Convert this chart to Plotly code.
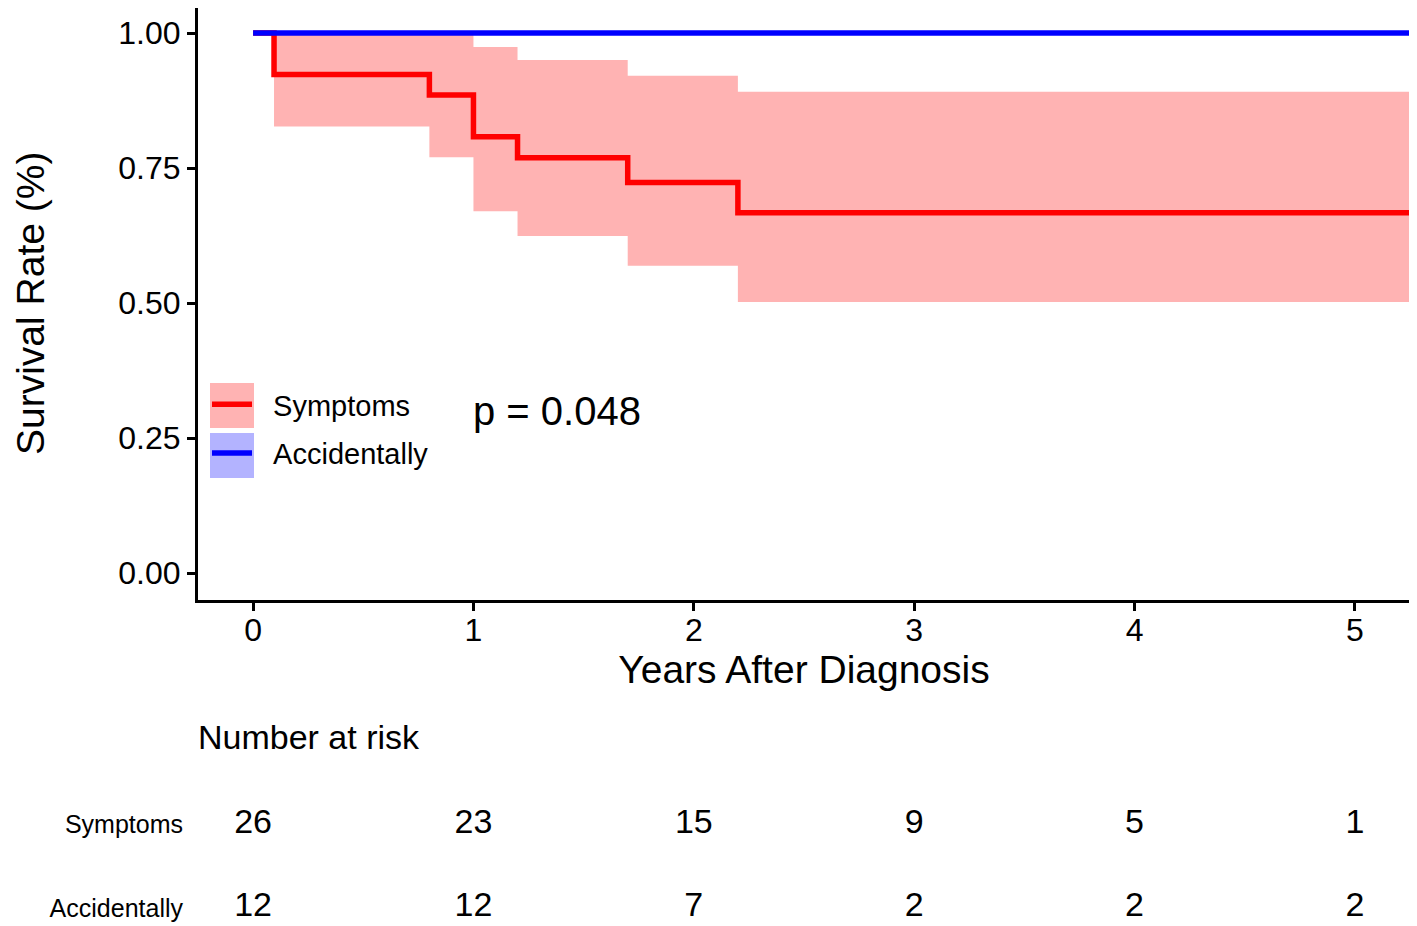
import plotly.graph_objects as go

# ---- data ----
groups = ["Symptoms", "Accidentally"]

sym_time = [0, 0.095, 0.8, 1.0, 1.2, 1.7, 2.2, 5.25]
sym_surv = [1.0, 0.923, 0.885, 0.808, 0.769, 0.723, 0.667, 0.667]
sym_upper = [1.0, 1.0, 1.0, 0.974, 0.950, 0.921, 0.891, 0.891]
sym_lower = [1.0, 0.827, 0.770, 0.670, 0.624, 0.569, 0.502, 0.502]

acc_time = [0, 5.25]
acc_surv = [1.0, 1.0]
acc_upper = [1.0, 1.0]
acc_lower = [1.0, 1.0]

risk_times = [0, 1, 2, 3, 4, 5]
risk_symptoms = [26, 23, 15, 9, 5, 1]
risk_accidentally = [12, 12, 7, 2, 2, 2]

p_text = "p = 0.048"
x_ticks = [0, 1, 2, 3, 4, 5]
y_ticks = [0, 0.25, 0.5, 0.75, 1.0]

FONT = "Liberation Sans, Arial, sans-serif"
RED = "#FF0000"
BLUE = "#0000FF"
RED_FILL = "#FFB3B3"
BLUE_FILL = "#B3B3FF"

# figure geometry (page body has an 8px margin)
W, H = 1417, 926
PAD = "\u00a0\u00a0"

fig = go.Figure()


def add_group(name, t, s, up, lo, color, fill):
    fig.add_trace(go.Scatter(x=t, y=up, mode="lines", line=dict(width=0, shape="hv", color=color),
                             showlegend=False, legendgroup=name, hoverinfo="skip"))
    fig.add_trace(go.Scatter(x=t, y=lo, mode="lines", line=dict(width=0, shape="hv", color=color),
                             fill="tonexty", fillcolor=fill, showlegend=False, legendgroup=name,
                             hoverinfo="skip"))
    fig.add_trace(go.Scatter(x=t, y=s, mode="lines", name=PAD + name,
                             line=dict(width=5.5, shape="hv", color=color), legendgroup=name))


add_group("Symptoms", sym_time, sym_surv, sym_upper, sym_lower, RED, RED_FILL)
add_group("Accidentally", acc_time, acc_surv, acc_upper, acc_lower, BLUE, BLUE_FILL)

# risk table
fig.add_trace(go.Scatter(x=risk_times, y=[groups[0]] * len(risk_times), text=[str(v) for v in risk_symptoms],
                         mode="text", textfont=dict(size=34, color="black", family=FONT),
                         xaxis="x2", yaxis="y2", showlegend=False))
fig.add_trace(go.Scatter(x=risk_times, y=[groups[1]] * len(risk_times), text=[str(v) for v in risk_accidentally],
                         mode="text", textfont=dict(size=34, color="black", family=FONT),
                         xaxis="x2", yaxis="y2", showlegend=False))

axis_common = dict(showline=True, linecolor="black", linewidth=3, ticks="outside", ticklen=8,
                   tickwidth=3, tickcolor="black", showgrid=False, zeroline=False, automargin=False,
                   tickfont=dict(size=32, color="black", family=FONT))


def px_x(px):
    # window px -> paper x (plot area from fig 190 to 1402)
    return (px - 8 - 190) / 1212.0


def px_y(py):
    return (H - (py - 8)) / H


shapes = []
for (y0, y1, col) in [(383, 428, RED_FILL), (433, 478, BLUE_FILL)]:
    shapes.append(dict(type="rect", xref="paper", yref="paper", x0=px_x(210), x1=px_x(254),
                       y0=px_y(y1), y1=px_y(y0), fillcolor=col, line=dict(width=0), layer="below"))

fig.update_layout(
    width=W, height=H,
    margin=dict(l=190, r=15, t=0, b=0, autoexpand=False),
    paper_bgcolor="white", plot_bgcolor="white",
    font=dict(family=FONT, color="black"),
    xaxis=dict(range=[-0.25, 5.25], domain=[0, 1], tickvals=x_ticks, ticklabelstandoff=-8,
               title=dict(text="Years After Diagnosis", font=dict(size=39), standoff=4),
               anchor="y", **axis_common),
    yaxis=dict(range=[-0.05, 1.0463], domain=[px_y(600), 1], tickvals=y_ticks, tickformat=".2f",
               anchor="x", **axis_common),
    xaxis2=dict(range=[-0.25, 5.25], domain=[0, 1], visible=False, anchor="y2", automargin=False),
    yaxis2=dict(type="category", categoryorder="array", categoryarray=["Accidentally", "Symptoms"],
                range=[-0.310, 1.405], domain=[0, px_y(790)], anchor="x2", showline=False, ticks="",
                showgrid=False, zeroline=False, tickfont=dict(size=25, color="black", family=FONT),
                ticklabelstandoff=14, automargin=False),
    legend=dict(x=px_x(207), y=0.5994, xanchor="left", yanchor="top", bgcolor="rgba(0,0,0,0)",
                font=dict(size=29, color="black", family=FONT), tracegroupgap=8,
                traceorder="grouped", itemwidth=40),
    shapes=shapes,
    annotations=[
        dict(text="Survival Rate (%)", x=px_x(30), y=px_y(303), xref="paper", yref="paper",
             xanchor="center", yanchor="middle", textangle=-90, showarrow=False,
             font=dict(size=39, color="black", family=FONT)),
        dict(text=p_text, x=0.99, y=0.30, xref="x", yref="y", xanchor="left", yanchor="middle",
             showarrow=False, font=dict(size=40, color="black", family=FONT)),
        dict(text="Number at risk", x=px_x(196), y=px_y(737), xref="paper", yref="paper",
             xanchor="left", yanchor="middle", showarrow=False,
             font=dict(size=34, color="black", family=FONT)),
    ],
)

fig.write_html("out.html")
